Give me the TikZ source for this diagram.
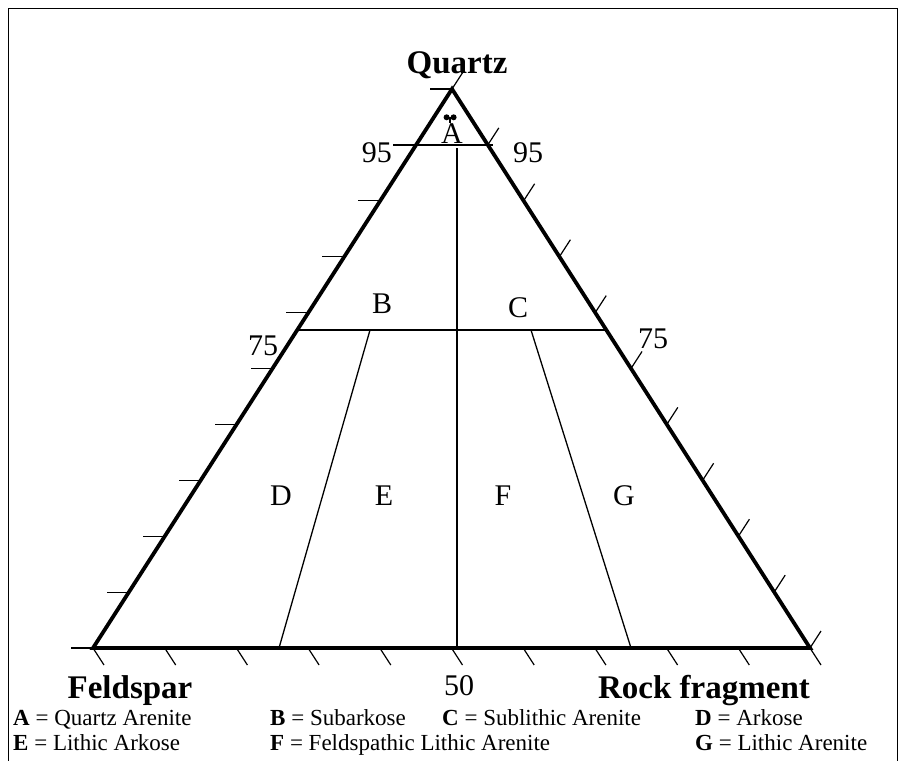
\documentclass[tikz,border=0pt]{standalone}
\usepackage{fontspec}
\setmainfont{Liberation Serif}
\usetikzlibrary{calc}
\tikzset{
  side/.style={line width=3.8pt, line join=miter, line cap=butt},
  thin/.style={line width=1.3pt},
  tickmark/.style={line width=1.2pt},
  vlabel/.style={font=\fontsize{33}{33}\selectfont\bfseries, inner sep=0pt},
  flabel/.style={font=\fontsize{30}{30}\selectfont, inner sep=0pt},
  legend/.style={font=\fontsize{23}{23}\selectfont, inner sep=0pt, anchor=base west,
    text height=15pt, text depth=4pt},
}
\begin{document}
\begin{tikzpicture}[x=1pt,y=-1pt]
\useasboundingbox (0,0) rectangle (907,760);
\fill[white] (0,0) rectangle (907,760);
% frame
\draw[line width=1pt] (8.5,770) -- (8.5,8.5) -- (897.5,8.5) -- (897.5,770);

\coordinate (T) at (452,89);
\coordinate (L) at (93,648);
\coordinate (R) at (810,648);

% ticks
\foreach \k in {0,...,10}{
  \draw[tickmark] ($(L)!\k/10!(T)$) -- ++(-22,0);
  \draw[tickmark] ($(L)!\k/10!(R)$) -- ++(11,17);
  \draw[tickmark] ($(R)!\k/10!(T)$) -- ++(11,-17);
}

% inner lines
\coordinate (n95l) at (393,145);
\coordinate (n95r) at (493,145);
\draw[thin] (n95l) -- (n95r);
\coordinate (n75l) at ($(L)!0.569!(T)$);
\coordinate (n75r) at ($(R)!0.569!(T)$);
\draw[thin] (n75l) -- (n75r);
\coordinate (vtop) at (457,148);
\coordinate (vbot) at (457,648);
\draw[thin] (vtop) -- (vbot);
\coordinate (s1t) at (370,330);
\coordinate (s1b) at (279,648);
\coordinate (s2t) at (531,330);
\coordinate (s2b) at (631,648);
\draw[thin] (s1t) -- (s1b);
\draw[thin] (s2t) -- (s2b);

% triangle
\draw[side] (T) -- (L) -- (R) -- cycle;

% vertex labels
\node[vlabel, anchor=base] (q) at (457,74) {Quartz};
\node[vlabel, anchor=base] (f) at (130,698) {Feldspar};
\node[vlabel, anchor=base] (rf) at (704,698) {Rock fragment};

% numbers
\node[flabel, anchor=base east] (l95) at (392,162) {95};
\node[flabel, anchor=base west] (r95) at (513,162) {95};
\node[flabel, anchor=base west] (l75) at (248,355) {75};
\node[flabel, anchor=base west] (r75) at (638,348) {75};
\node[flabel, anchor=base] (b50) at (459,695) {50};

% field letters
\node[flabel, anchor=base] (fa) at (452,143) {A};
\fill (446.6,117.3) circle (3pt) (453.6,117.3) circle (3pt);
\draw[line width=1.6pt] (446.6,117.3) -- (453.6,117.3) (450.1,117.3) -- (450.1,122.5);
\node[flabel, anchor=base] (fb) at (382,313) {B};
\node[flabel, anchor=base] (fc) at (518,317) {C};
\node[flabel, anchor=base] (fd) at (281,505) {D};
\node[flabel, anchor=base] (fe) at (384,505) {E};
\node[flabel, anchor=base] (ff) at (503,505) {F};
\node[flabel, anchor=base] (fg) at (624,505) {G};

% legend
\node[legend] (la) at (13,725) {\textbf{A} = Quartz Arenite};
\node[legend] (lb) at (270,725) {\textbf{B} = Subarkose};
\node[legend] (lc) at (442,725) {\textbf{C} = Sublithic Arenite};
\node[legend] (ld) at (695,725) {\textbf{D} = Arkose};
\node[legend] (le) at (13,750) {\textbf{E} = Lithic Arkose};
\node[legend] (lf) at (270,750) {\textbf{F} = Feldspathic Lithic Arenite};
\node[legend] (lg) at (695,750) {\textbf{G} = Lithic Arenite};
\end{tikzpicture}
\end{document}
